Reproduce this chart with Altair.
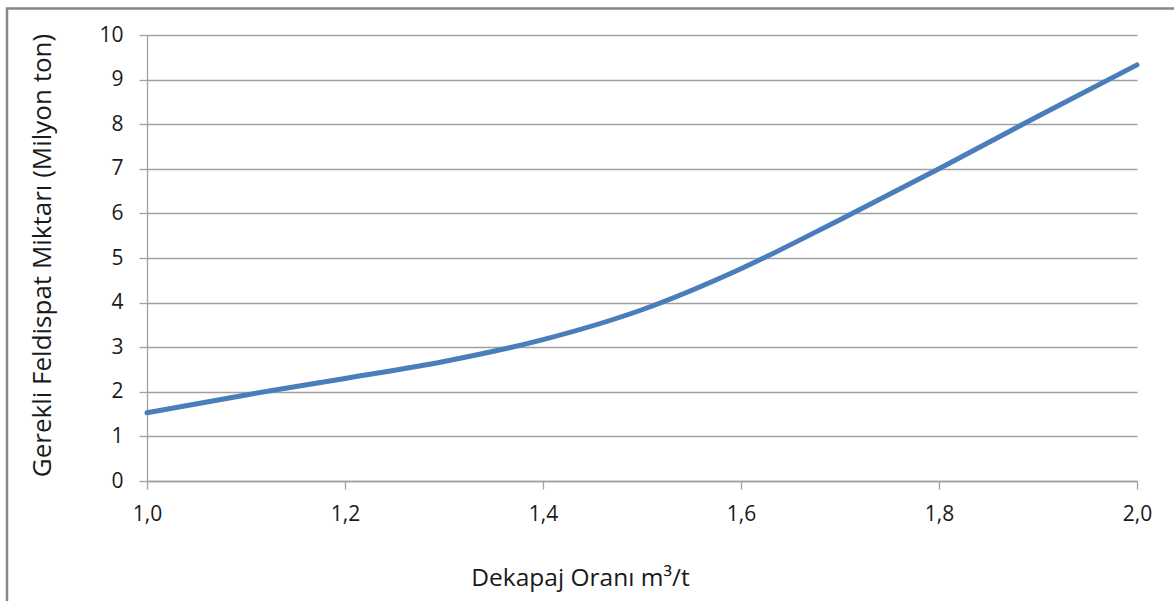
import altair as alt
import pandas as pd

# Stripping ratio (m3/t) and required feldspar amount (million tonnes)
oran = [1.0, 1.1, 1.2, 1.3, 1.4, 1.5, 1.6, 1.7, 1.8, 1.9, 2.0]
miktar = [1.53, 1.93, 2.30, 2.68, 3.17, 3.84, 4.76, 5.86, 7.00, 8.18, 9.33]

x_ticks = [1.0, 1.2, 1.4, 1.6, 1.8, 2.0]
y_ticks = list(range(0, 11))

df = pd.DataFrame({"oran": oran, "miktar": miktar})

FONT = "Open Sans"
GRID = "#a0a0a0"

line = alt.Chart(df).mark_line(
    color="#4a7ebb", strokeWidth=5, interpolate="monotone", strokeCap="round"
).encode(
    x=alt.X(
        "oran:Q",
        scale=alt.Scale(domain=[1.0, 2.0], nice=False, zero=False),
        axis=alt.Axis(
            values=x_ticks,
            labelExpr="replace(format(datum.value, '.1f'), '.', ',')",
            labelFlush=False,
            grid=False,
            title="Dekapaj Oranı m³/t",
            titleX=433,
            titleY=104,
            titleBaseline="alphabetic",
            titleAlign="center",
            titleFontSize=24.5,
            labelPadding=14,
        ),
    ),
    y=alt.Y(
        "miktar:Q",
        scale=alt.Scale(domain=[0, 10], nice=False),
        axis=alt.Axis(
            values=y_ticks,
            grid=True,
            title="Gerekli Feldispat Miktarı (Milyon ton)",
            titleX=-97,
            titleY=220,
            titleBaseline="alphabetic",
            titleAlign="center",
            titleAngle=-90,
            titleFontSize=26,
            labelPadding=16,
        ),
    ),
)

# outer chart frame
frame = alt.Chart(alt.Data(values=[{}])).mark_rect(
    fill=None, stroke="#878787", strokeWidth=2.5
).encode(
    x=alt.value(-140),
    x2=alt.value(1060),
    y=alt.value(-26.5),
    y2=alt.value(600),
)

chart = alt.layer(frame, line).properties(
    width=990,
    height=446,
    autosize=alt.AutoSizeParams(type="none"),
    padding={"left": 147, "top": 35, "right": 37, "bottom": 120},
    background="white",
).configure_view(
    stroke=None
).configure_axis(
    domainColor=GRID,
    tickColor=GRID,
    gridColor=GRID,
    domainWidth=1.3,
    tickWidth=1.3,
    gridWidth=1.3,
    tickSize=8,
    labelFont=FONT,
    labelFontSize=21,
    labelColor="#1a1a1a",
    titleFont=FONT,
    titleFontWeight="normal",
    titleColor="#1a1a1a",
)

chart.save("out.html", embed_options={"renderer": "svg", "actions": False})
